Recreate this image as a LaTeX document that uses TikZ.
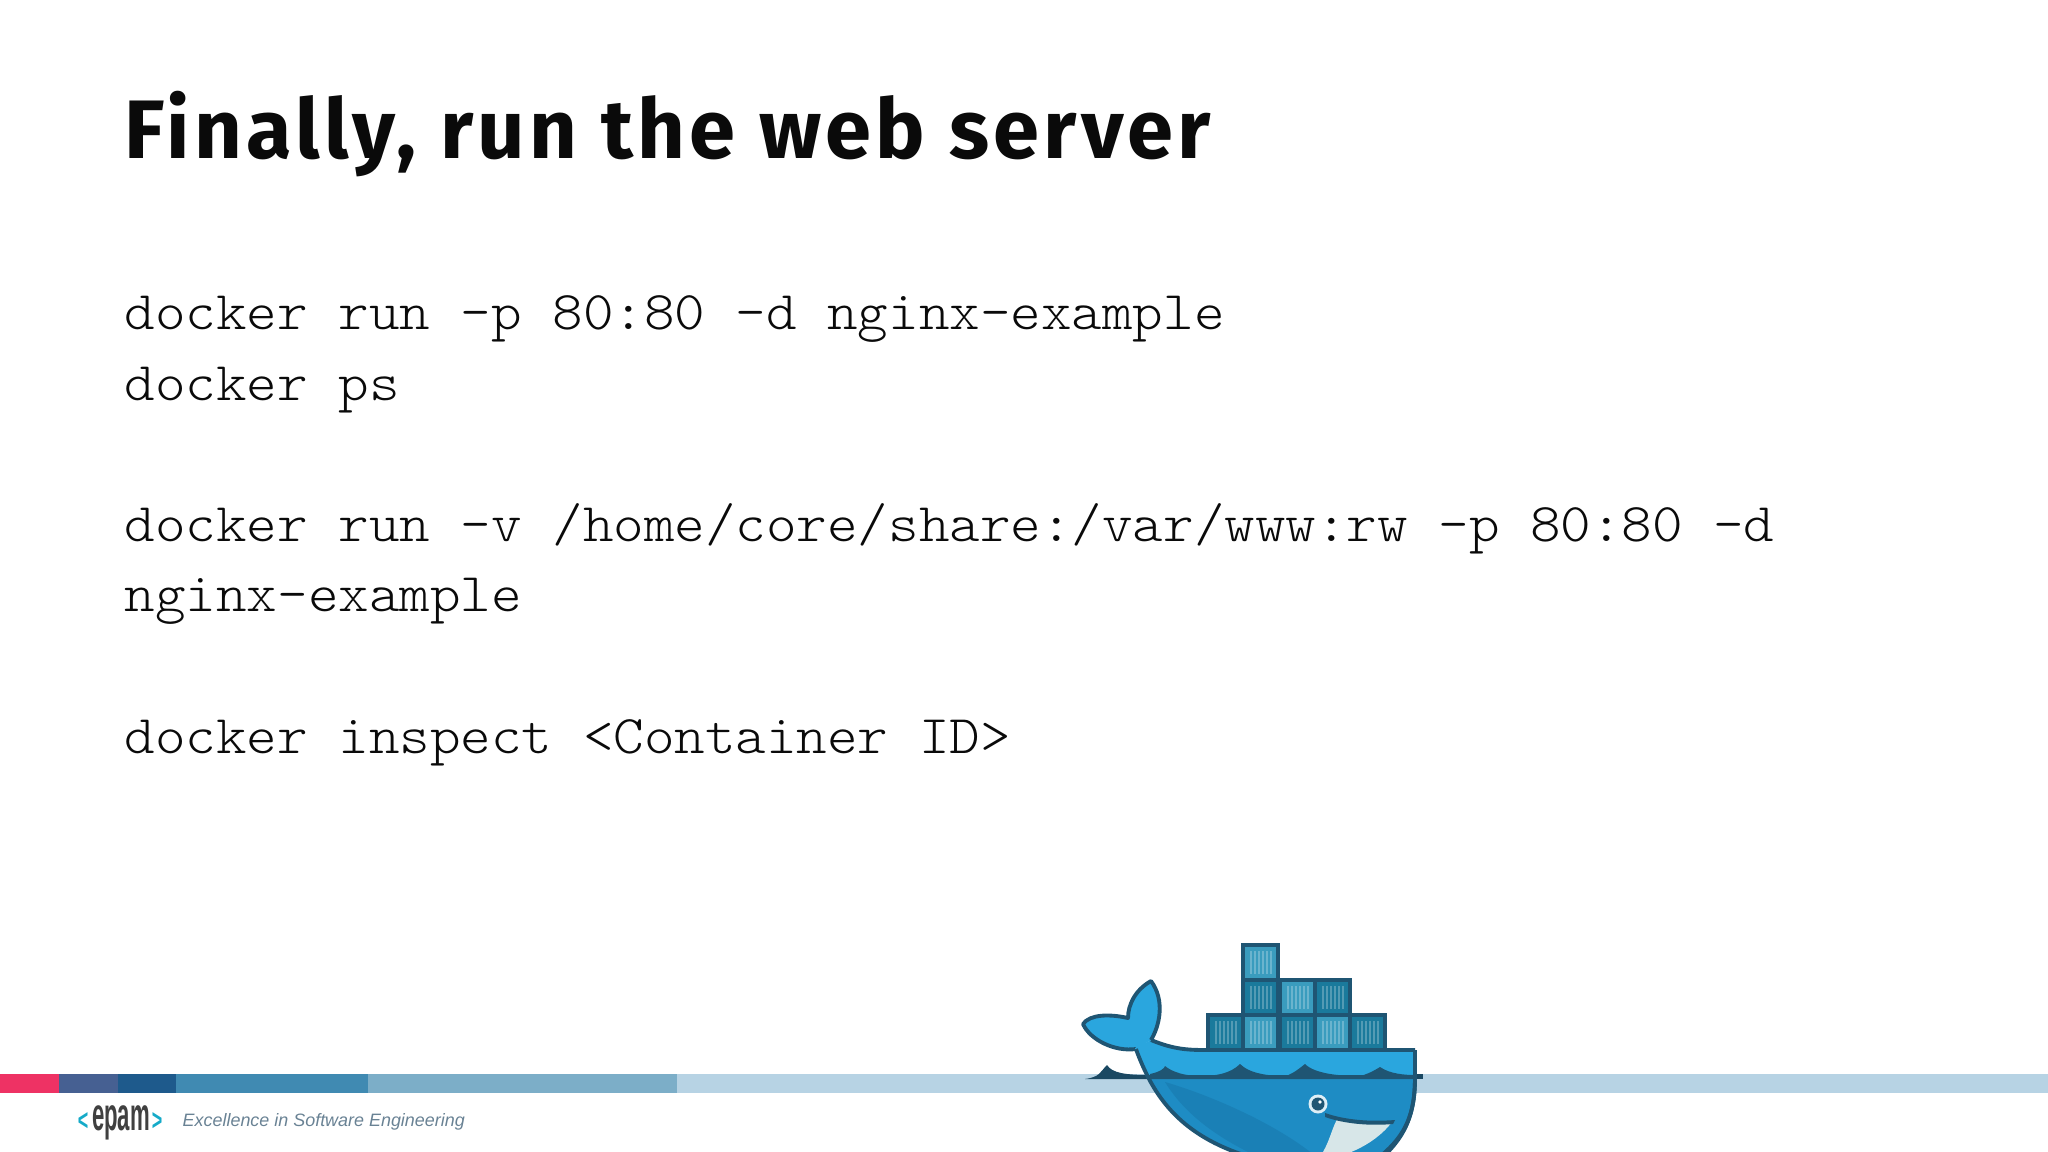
\documentclass[tikz,border=0pt]{standalone}
\usepackage{fontspec}
\setmainfont{Liberation Sans}
\newfontfamily\titlefont[LetterSpace=5.1]{Fira Sans}
\newfontfamily\codefont{Latin Modern Mono Light}
\definecolor{inkdark}{HTML}{0A0A0A}
\definecolor{whaleline}{HTML}{1F5573}
\definecolor{whaletop}{HTML}{2AA6DE}
\definecolor{whalelow}{HTML}{1E8CC4}
\definecolor{whaleshade}{HTML}{1A80B6}
\definecolor{boxdark}{HTML}{1A7A9C}
\definecolor{boxlight}{HTML}{3A9CBE}
\tikzset{
	titletext/.style={anchor=base west,inner sep=0pt,font=\titlefont\bfseries\fontsize{23.6}{28}\selectfont,color=inkdark},
	codetext/.style={anchor=base west,inner sep=0pt,xscale=1.0676,font=\codefont\fontsize{15.5}{18}\selectfont,color=inkdark},
	whaleedge/.style={draw=whaleline,line width=1.1pt,line join=round},
}
\begin{document}
\begin{tikzpicture}[x=0.01cm,y=-0.01cm]
	\useasboundingbox (0,0) rectangle (2048,1152);
	\clip (0,0) rectangle (2048,1152);

	\node[titletext] (title) at (124,159) {Finally, run the web server};

	\node[codetext] (line1) at (124,330) {docker run -p 80:80 -d nginx-example};
	\node[codetext] (line2) at (124,401) {docker ps};
	\node[codetext] (line3) at (124,542) {docker run -v /home/core/share:/var/www:rw -p 80:80 -d};
	\node[codetext] (line4) at (124,612) {nginx-example};
	\node[codetext] (line5) at (124,753) {docker inspect <Container ID>};

	% footer band
	\fill[color={rgb,255:red,183;green,211;blue,228}] (677,1074) rectangle (2048,1093);
	\fill[color={rgb,255:red,124;green,174;blue,200}] (368,1074) rectangle (677,1093);
	\fill[color={rgb,255:red,64;green,138;blue,178}] (176,1074) rectangle (368,1093);
	\fill[color={rgb,255:red,30;green,90;blue,140}] (118,1074) rectangle (176,1093);
	\fill[color={rgb,255:red,70;green,96;blue,146}] (59,1074) rectangle (118,1093);
	\fill[color={rgb,255:red,238;green,50;blue,100}] (0,1074) rectangle (59,1093);

	% logo
	\node[inner sep=0pt,xscale=0.6,color={rgb,255:red,20;green,170;blue,200},font=\bfseries\fontsize{8.5}{9}\selectfont] (logol) at (83,1122) {<};
	\node[inner sep=0pt,color=black!75,font=\bfseries\fontsize{10.5}{10}\selectfont,xscale=0.6,yscale=1.25] (logo) at (121,1123) {epam};
	\node[inner sep=0pt,xscale=0.6,color={rgb,255:red,20;green,170;blue,200},font=\bfseries\fontsize{8.5}{9}\selectfont] (logor) at (157,1122) {>};
	\node[anchor=west,inner sep=0pt,color={rgb,255:red,105;green,130;blue,148},font=\itshape\fontsize{5.1}{7}\selectfont] (slogan) at (182,1122) {Excellence in Software Engineering};

	% water behind the whale
	\fill[color=whaleline!85!black] (1085,1079) .. controls (1100,1077) and (1100,1072) .. (1107,1065) .. controls (1112,1073) and (1125,1075) .. (1150,1075) -- (1150,1079) -- cycle;
	\fill[color=whaleline!85!black] (1400,1074) rectangle (1423,1079);

	% containers
	\foreach \cx/\cy/\tone in {1243/945/boxlight,1208/1015/boxdark,1243/980/boxdark,1243/1015/boxlight,1280/980/boxlight,1280/1015/boxdark,1315/980/boxdark,1315/1015/boxlight,1350/1015/boxdark}{
		\fill[color=\tone] (\cx,\cy) rectangle ++(35,35);
		\foreach \k in {8,12,...,28}
			\draw[color=white,opacity=0.25,line width=0.35pt] (\cx+\k,\cy+6) -- (\cx+\k,\cy+29);
		\draw[color=whaleline,line width=1.1pt] (\cx,\cy) rectangle ++(35,35);
	}

	% tail
	\fill[color=whaletop] (1128,1018) .. controls (1110,1014) and (1090,1014) .. (1083,1024) .. controls (1090,1040) and (1115,1052) .. (1136,1049) -- (1151,1040) .. controls (1160,1025) and (1165,1000) .. (1151,981) .. controls (1135,990) and (1128,1005) .. (1128,1018) -- cycle;
	\draw[whaleedge] (1136,1049) .. controls (1115,1052) and (1090,1040) .. (1083,1024) .. controls (1090,1014) and (1110,1014) .. (1128,1018) .. controls (1128,1005) and (1135,990) .. (1151,981) .. controls (1165,1000) and (1160,1025) .. (1151,1040);

	% whale body
	\fill[color=whaletop] (1151,1040) .. controls (1175,1050) and (1190,1050) .. (1208,1050) -- (1415,1050) -- (1415,1078) -- (1150,1078) .. controls (1140,1060) and (1135,1050) .. (1135,1048) -- cycle;
	\draw[whaleedge] (1151,1040) .. controls (1175,1050) and (1190,1050) .. (1208,1050) -- (1415,1050);
	\draw[whaleedge] (1136,1049) .. controls (1138,1055) and (1142,1065) .. (1148,1077);
	\path[fill=whalelow,whaleedge] (1148,1077) -- (1415,1077) .. controls (1415,1115) and (1405,1135) .. (1385,1155) -- (1260,1160) .. controls (1205,1145) and (1170,1120) .. (1148,1077) -- cycle;
	\fill[color=whaleshade] (1165,1082) .. controls (1210,1095) and (1280,1125) .. (1320,1160) -- (1265,1160) .. controls (1220,1140) and (1185,1115) .. (1165,1082) -- cycle;

	% waves
	\fill[color=whaleline] (1150,1079) -- (1150,1074) .. controls (1160,1072) and (1165,1068) .. (1165,1066) .. controls (1172,1072) and (1185,1076) .. (1200,1076) .. controls (1215,1076) and (1230,1074) .. (1240,1064) .. controls (1250,1074) and (1270,1076) .. (1285,1076) .. controls (1290,1075) and (1295,1072) .. (1305,1064) .. controls (1315,1074) and (1340,1076) .. (1360,1076) .. controls (1365,1075) and (1372,1072) .. (1380,1067) .. controls (1390,1074) and (1405,1075) .. (1415,1075) -- (1415,1079) -- cycle;

	% mouth and eye
	\fill[color={rgb,255:red,215;green,230;blue,232}] (1323,1152) .. controls (1330,1140) and (1333,1125) .. (1338,1118) .. controls (1355,1123) and (1375,1124) .. (1392,1122) .. controls (1380,1138) and (1360,1150) .. (1340,1156) -- cycle;
	\fill[color=whaleline] (1325,1113) .. controls (1345,1120) and (1370,1122) .. (1395,1120) -- (1393,1124) .. controls (1370,1126) and (1345,1124) .. (1325,1117) -- cycle;
	\fill[color=white!85!whalelow] (1318,1104) circle (9.5);
	\fill[color=whaleline] (1318,1104) circle (6.5);
	\fill[color=white] (1320,1102) circle (1.8);
	\draw[whaleedge] (1415,1050) -- (1415,1078) .. controls (1415,1115) and (1405,1135) .. (1382,1155);
\end{tikzpicture}
\end{document}
